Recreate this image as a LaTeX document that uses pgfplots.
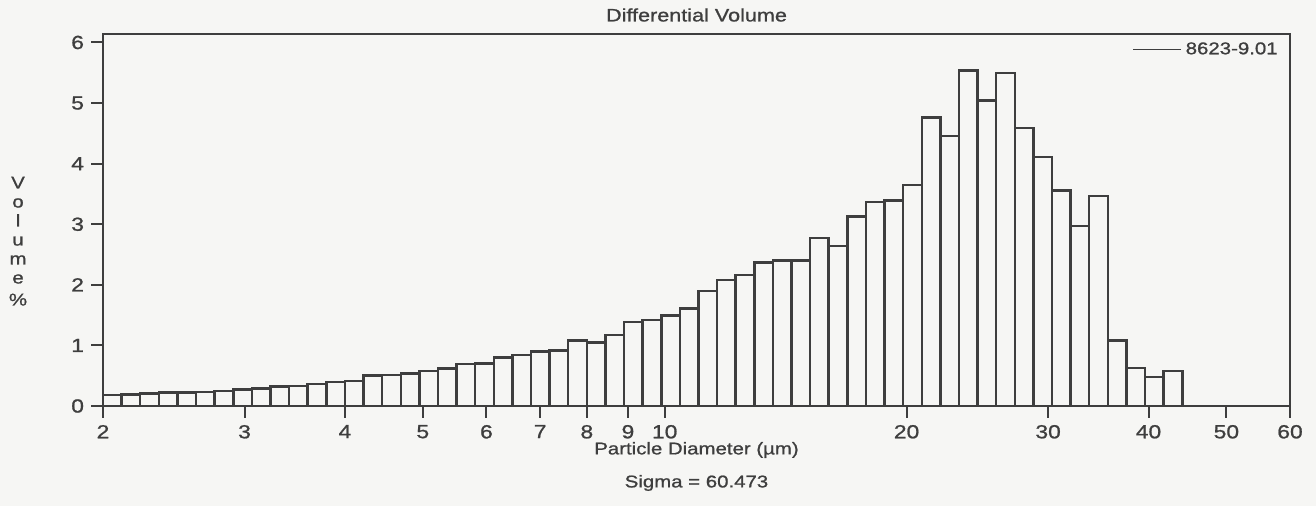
\documentclass[border=0pt]{standalone}
\usepackage{fontspec}
\setmainfont{Liberation Sans}[FakeStretch=1.2, FakeBold=1]
\usepackage{pgfplots}
\pgfplotsset{compat=1.18}
\definecolor{ink}{RGB}{62,62,62}
\definecolor{paper}{RGB}{246,246,244}

\begin{document}
\begin{tikzpicture}
% page is 1316x506 px at 0.5pt per px, axis box lower left at (0,0)
\useasboundingbox[fill=paper] (-51.5pt,-50pt) rectangle (606.5pt,203pt);
\begin{axis}[
    scale only axis,
    width=593.5pt, height=186pt,
    clip=false,
    xmode=log,
    xmin=2, xmax=60,
    ymin=0, ymax=6.14,
    xtick={2,3,4,5,6,7,8,9,10,20,30,40,50,60},
    xticklabels={2,3,4,5,6,7,8,9,10,20,30,40,50,60},
    ytick={0,1,2,3,4,5,6},
    xminorticks=false,
    xtick pos=bottom, ytick pos=left,
    tick align=outside,
    major tick length=6pt,
    tick style={ink, line width=1pt},
    axis line style={ink, line width=1.3pt},
    /pgf/number format/assume math mode=true,
    ticklabel style={font=\fontsize{9.5}{11}\selectfont, text=ink},
    title={Differential Volume},
    title style={at={(axis description cs:0.5,1)}, anchor=center, yshift=3.5pt,
        font=\fontsize{9}{11}\selectfont, text=ink},
    xlabel={Particle Diameter (µm)},
    xlabel style={at={(axis description cs:0.5,0)}, anchor=center, yshift=-22pt,
        font=\fontsize{8.5}{10}\selectfont, text=ink},
    ylabel={\parbox{2em}{\centering\fontsize{8.5}{9.5}\selectfont V\\o\\l\\u\\m\\e\\[1.5pt]\%}},
    ylabel style={rotate=-90, at={(axis description cs:-0.0716,0.443)}, anchor=center, text=ink},
    legend style={at={(axis description cs:1,1)}, anchor=north east, xshift=-1pt,
        draw=none, fill=none, font=\fontsize{8.5}{10}\selectfont, text=ink},
    legend image code/.code={\draw[ink, line width=0.6pt] (0pt,0pt) -- (24pt,0pt);},
]
\addplot[ybar interval, draw=ink, fill=paper, line width=1.25pt] coordinates {
    (2.0000,0.18) (2.1095,0.19) (2.2251,0.21) (2.3469,0.22) (2.4755,0.22)
    (2.6110,0.23) (2.7540,0.25) (2.9048,0.27) (3.0639,0.29) (3.2317,0.32)
    (3.4087,0.33) (3.5954,0.36) (3.7923,0.40) (4.0000,0.41) (4.2191,0.50)
    (4.4501,0.51) (4.6938,0.54) (4.9509,0.58) (5.2220,0.62) (5.5080,0.69)
    (5.8097,0.70) (6.1279,0.80) (6.4635,0.84) (6.8174,0.90) (7.1908,0.92)
    (7.5846,1.08) (8.0000,1.05) (8.4381,1.17) (8.9002,1.39) (9.3877,1.42)
    (9.9018,1.49) (10.444,1.61) (11.016,1.90) (11.619,2.08) (12.256,2.16)
    (12.927,2.37) (13.635,2.40) (14.382,2.40) (15.169,2.77) (16.000,2.64)
    (16.876,3.13) (17.800,3.37) (18.775,3.39) (19.804,3.65) (20.888,4.76)
    (22.032,4.46) (23.239,5.54) (24.511,5.04) (25.854,5.50) (27.270,4.59)
    (28.763,4.11) (30.339,3.56) (32.000,2.97) (33.752,3.47) (35.601,1.08)
    (37.551,0.63) (39.607,0.48) (41.776,0.58) (44.064,0)
};
\addlegendentry{8623-9.01}
\node[font=\fontsize{8.5}{10}\selectfont, text=ink, yshift=-38.5pt]
    at (axis description cs:0.5,0) {Sigma = 60.473};
\end{axis}
\end{tikzpicture}
\end{document}
